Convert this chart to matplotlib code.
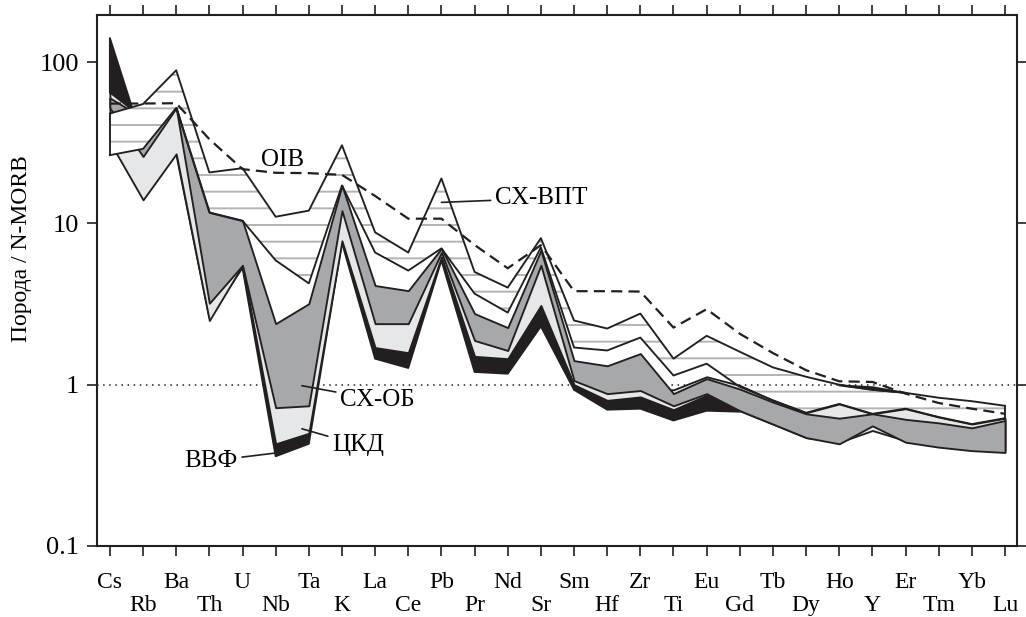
import numpy as np
import matplotlib.pyplot as plt

plt.rcParams['font.family'] = ['Liberation Serif', 'DejaVu Serif']
plt.rcParams['hatch.linewidth'] = 1.4
plt.rcParams['hatch.color'] = '#b3b3b3'

nan = np.nan

elements = ['Cs', 'Rb', 'Ba', 'Th', 'U', 'Nb', 'Ta', 'K', 'La', 'Ce', 'Pb', 'Pr', 'Nd', 'Sr',
            'Sm', 'Hf', 'Zr', 'Ti', 'Eu', 'Gd', 'Tb', 'Dy', 'Ho', 'Y', 'Er', 'Tm', 'Yb', 'Lu']

# OIB normalised to N-MORB (dashed line)
oib = [55.3, 55.4, 55.6, 33.3, 21.7, 20.6, 20.5, 20.0, 14.8, 10.7, 10.7, 7.35, 5.27, 7.33,
       3.80, 3.80, 3.78, 2.26, 2.94, 2.07, 1.57, 1.23, 1.05, 1.04, 0.88, 0.77, 0.71, 0.66]

# СХ-ВПТ field (hatched): upper and lower limits
vpt_top = [48, 55, 89, 20.7, 22, 11, 12, 30.5, 8.8, 6.6, 19, 5.0, 4.0, 8.1,
           2.5, 2.23, 2.76, 1.45, 2.01, 1.6, 1.28, 1.12, 1.0, 0.93, 0.89, 0.83, 0.79, 0.74]
vpt_low = [26.5, 29, 52, 11.7, 10.4, 5.9, 4.25, 17.2, 6.6, 5.1, 7.0, 3.67, 2.8, 7.1,
           1.7, 1.63, 1.96, 1.14, 1.35, 0.97, 0.80, 0.67, 0.76, 0.66, 0.71, 0.63, 0.57, 0.62]

# СХ-ОБ field (dark grey)
ob_top = [60, 45, 52, 11.7, 10.4, 2.39, 3.18, 17.2, 4.12, 3.83, 7.0, 2.76, 2.26, 6.8,
          1.41, 1.31, 1.56, 0.88, 1.09, 0.94, 0.78, 0.66, 0.62, 0.66, 0.61, 0.58, 0.54, 0.60]
ob_low = [52, 26, 52, 3.2, 5.5, 0.72, 0.74, 12.0, 2.39, 2.39, 6.6, 1.88, 1.63, 5.5,
          1.06, 0.88, 0.92, 0.74, 0.88, 0.69, 0.57, 0.47, 0.43, 0.556, 0.44, 0.41, 0.39, 0.38]

# ЦКД field (light grey)
ckd_top = [65, 45, 52, 10.0, 8.0, 2.0, 2.5, 12.5, 2.6, 2.6, 6.9, 2.0, 1.75, 5.7,
           1.1, 0.92, 0.95, 0.93, 1.12, 0.99, 0.80, 0.67, 0.76, 0.66, 0.71, 0.63, 0.57, 0.62]
ckd_low = [32, 14, 27, 2.5, 5.5, 0.43, 0.5, 7.8, 1.7, 1.58, 6.2, 1.5, 1.45, 3.1,
           1.0, 0.8, 0.84, 0.70, 0.86, 0.69, 0.57, 0.47, 0.44, 0.52, 0.45, 0.42, 0.40, 0.39]

# ВВФ field (black)
vvf_top = [141, 32, 50, 10, 5.6, 0.43, 0.5, 7.8, 1.7, 1.58, 6.2, 1.5, 1.45, 3.1,
           1.0, 0.8, 0.84, 0.70, 0.88, 0.69, nan, nan, 0.99, 0.965, 0.89, nan, nan, nan]
vvf_low = [65, 26, 27, 2.6, 5.3, 0.36, 0.43, 7.6, 1.45, 1.27, 5.9, 1.2, 1.17, 2.3,
           0.93, 0.7, 0.71, 0.60, 0.69, 0.68, nan, nan, 0.99, 0.93, 0.89, nan, nan, nan]

x = np.arange(len(elements))
dark = '#a7a8ab'
light = '#e6e7e8'
black = '#231f20'
lw = 1.35

fig = plt.figure(figsize=(10.26, 6.17), dpi=100)
ax = fig.add_axes([0.0945, 0.1151, 0.8967, 0.8606])
ax.set_yscale('log')

# hatched field first, grey fields over it
ax.fill_between(x, vpt_low, vpt_top, facecolor='white', edgecolor='#b3b3b3',
                hatch='-', lw=0, zorder=1)
ax.axhline(1, color=black, ls=(0, (1, 3)), lw=1.1, zorder=1.5)
ax.fill_between(x, vvf_low, vvf_top, facecolor=black, edgecolor=black, lw=lw, zorder=2)
ax.fill_between(x, ckd_low, ckd_top, facecolor=light, edgecolor=black, lw=lw, zorder=3)
ax.fill_between(x, ob_low, ob_top, facecolor=dark, edgecolor=black, lw=lw, zorder=4)
# Cs-Ba part of the hatched field lies on top of the grey fields
ax.fill_between(x[:3], vpt_low[:3], vpt_top[:3], facecolor='white', edgecolor='#b3b3b3',
                hatch='-', lw=0, zorder=5)
ax.plot(x, vpt_top, color=black, lw=lw, zorder=6)
ax.plot(x, vpt_low, color=black, lw=lw, zorder=6)
ax.plot([x[0], x[0]], [vpt_low[0], vpt_top[0]], color=black, lw=lw, zorder=6)
ax.plot([x[-1], x[-1]], [vpt_low[-1], vpt_top[-1]], color=black, lw=lw, zorder=6)

ax.plot(x, oib, color=black, ls=(0, (5, 2.8)), lw=1.6, zorder=7)

# labels
fs = 18
ax.text(5.22, 24.6, 'OIB', ha='center', va='center', fontsize=fs, zorder=8)
arrow = dict(arrowstyle='-', color=black, lw=1.2, shrinkA=1, shrinkB=0)
ax.annotate('СХ-ВПТ', xy=(10.0, 13.5), xytext=(11.61, 14.3), ha='left', va='center',
            fontsize=fs, arrowprops=arrow, zorder=8)
ax.annotate('СХ-ОБ', xy=(5.79, 0.986), xytext=(6.94, 0.807), ha='left', va='center',
            fontsize=fs, arrowprops=arrow, zorder=8)
ax.annotate('ЦКД', xy=(5.79, 0.533), xytext=(6.70, 0.424), ha='left', va='center',
            fontsize=fs, arrowprops=arrow, zorder=8)
ax.annotate('ВВФ', xy=(5.04, 0.378), xytext=(3.86, 0.337), ha='right', va='center',
            fontsize=fs, arrowprops=arrow, zorder=8)

ax.set_xlim(-0.39, 27.36)
ax.set_ylim(0.1, 196)
ax.set_yticks([0.1, 1, 10, 100])
ax.set_yticklabels(['0.1', '1', '10', '100'], fontsize=19)
ax.yaxis.set_minor_locator(plt.NullLocator())
ax.set_xticks(x)
ax.set_xticklabels(elements, fontsize=17)
ax.tick_params(axis='both', which='major', direction='out', length=7, width=1.2,
               top=True, right=True, labeltop=False, labelright=False, color=black)
ax.tick_params(axis='y', pad=6)
for i, tick in enumerate(ax.xaxis.get_major_ticks()):
    tick.set_pad(12 if i % 2 == 0 else 28)
for s in ax.spines.values():
    s.set_linewidth(1.5)
    s.set_color(black)

fig.text(22 / 1026, 1 - 249 / 617, 'Порода / N-MORB', rotation=90, ha='center',
         va='center', fontsize=17)

fig.savefig('out.png', dpi=100)
